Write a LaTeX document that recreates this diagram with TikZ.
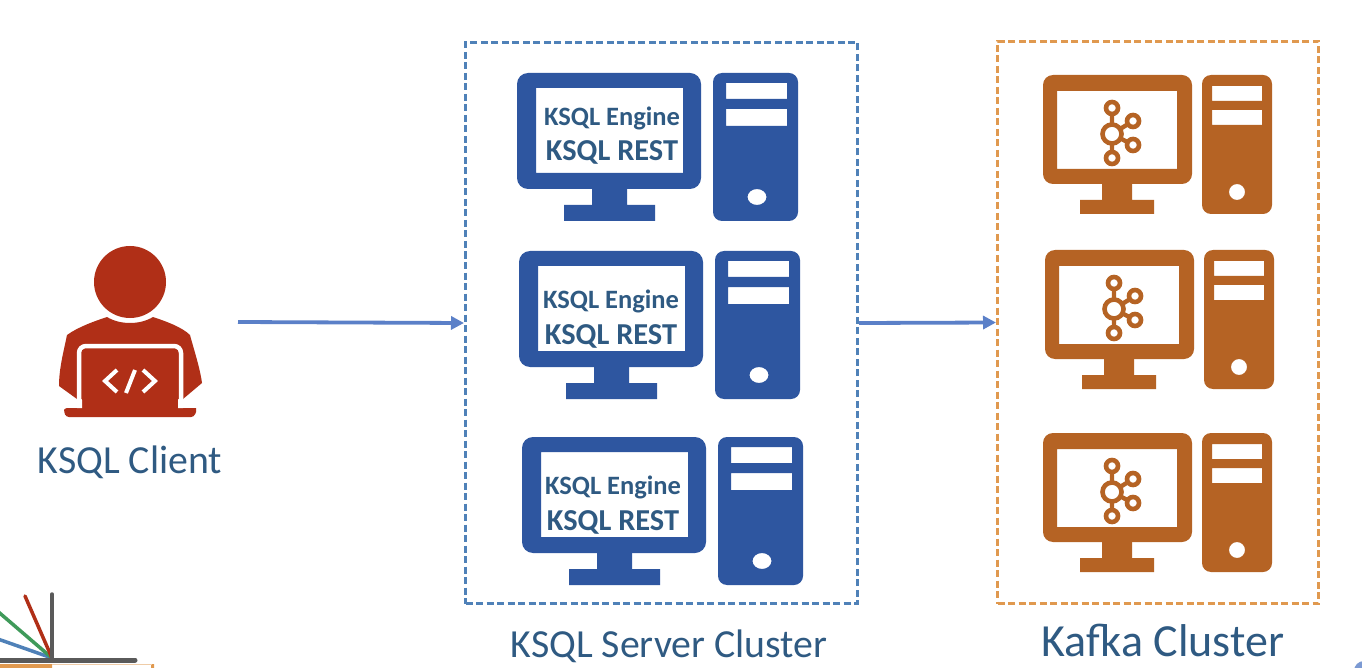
\documentclass[tikz,border=0pt]{standalone}
\usepackage{fontspec}
\setmainfont{Carlito}
\usetikzlibrary{arrows.meta}
\definecolor{pcblue}{HTML}{2E56A0}
\definecolor{pcorange}{HTML}{B56324}
\definecolor{userred}{HTML}{B02F17}
\definecolor{labelblue}{HTML}{2F5A82}
\definecolor{arrowblue}{HTML}{5B80C8}
\definecolor{boxblue}{HTML}{4F81B8}
\definecolor{boxorange}{HTML}{E0994F}
\definecolor{logogrey}{HTML}{5A5A5A}
\definecolor{logogreen}{HTML}{3F9A5A}
\tikzset{
  bluepc/.pic={
    \fill[pcblue,even odd rule]
      [rounded corners=11pt] (0,0) rectangle (184,116)
      [sharp corners] (19,15) rectangle (166,100);
    \fill[pcblue] (75,116) rectangle (110,132) (47,132) rectangle (138,148);
    \fill[pcblue,even odd rule]
      [rounded corners=9pt] (196,0) rectangle (281,148)
      [sharp corners] (209,10) rectangle (270,26) (209,36) rectangle (270,53)
      (240,124) ellipse [x radius=9.5,y radius=8];
  },
  kafkamark/.style={draw=pcorange,line width=4.6pt,fill=white},
  orangepc/.pic={
    \fill[pcorange,even odd rule]
      [rounded corners=10pt] (0,0) rectangle (149,109)
      [sharp corners] (14,16) rectangle (134,94);
    \fill[pcorange] (59,109) rectangle (89,125) (37,125) rectangle (111,139);
    \fill[pcorange,even odd rule]
      [rounded corners=9pt] (159,0) rectangle (229,139)
      [sharp corners] (169,11) rectangle (219,26) (169,35) rectangle (219,50)
      (194,117) circle [radius=8];
    \draw[pcorange,line width=4.4pt]
      (69,33) -- (69,83) (69,59) -- (90,46) (69,59) -- (90,70);
    \draw[kafkamark] (69,33) circle [radius=6];
    \draw[kafkamark] (90,46) circle [radius=6];
    \draw[kafkamark] (90,70) circle [radius=6];
    \draw[kafkamark] (69,83) circle [radius=6];
    \draw[kafkamark] (69,59) circle [radius=9.5];
  },
  enginetext/.style={text=labelblue,font=\bfseries\fontsize{26.5}{26.5}\selectfont,inner sep=0pt},
  resttext/.style={text=labelblue,font=\bfseries\fontsize{30.4}{30.4}\selectfont,inner sep=0pt},
  caption/.style={text=labelblue,inner sep=0pt},
  clusterbox/.style={draw,dash pattern=on 7pt off 3.5pt,line width=3pt,inner sep=0pt,fill=none},
  flow/.style={draw=arrowblue,line width=3.8pt,-{Triangle[length=13pt,width=13pt]}},
}
\begin{document}
\begin{tikzpicture}[x=1pt,y=-1pt]
\clip (0,0) rectangle (1362,668);
\fill[white] (0,0) rectangle (1362,668);

% logo fragment, bottom left
\draw[boxblue,line width=3.5pt] (-5,638) -- (52,658);
\draw[logogreen,line width=3.5pt] (-5,609) -- (52,658);
\draw[userred,line width=3.5pt,line cap=round] (25,596) -- (52,658);
\draw[logogrey,line width=3.5pt,line cap=round] (52,594) -- (52,660);
\draw[logogrey,line width=5pt,line cap=round] (-5,660) -- (135,660);
\fill[boxorange] (0,664) rectangle (52,668) (151,664) rectangle (154,668);
\draw[boxorange!50,line width=.8pt] (52,664) -- (152,664);
\fill[arrowblue!80] (1364,671) circle [radius=10];

% client
\fill[userred] (130,282) circle [radius=36];
\fill[userred] (107,317) .. controls (120,325) and (140,325) .. (153,317)
  .. controls (165,321) and (182,327) .. (190,335)
  .. controls (194,350) and (200,368) .. (202,383)
  -- (183,399) -- (77,399) -- (59,386)
  .. controls (59,368) and (64,350) .. (67,335)
  .. controls (78,327) and (95,321) .. (107,317) -- cycle;
\draw[white,line width=4.5pt,rounded corners=7pt] (79,402) -- (79,346) -- (181,346) -- (181,402);
\fill[userred] (64,408) -- (196,408) -- (196,412) [rounded corners=3pt] -- (194,417) -- (66,417) -- (64,412) -- cycle;
\fill[userred] (82,350) rectangle (178,409);
\fill[white] (77,400) rectangle (82,408) (178,400) rectangle (183,408);
\draw[white,line width=4pt] (117,370) -- (105,381) -- (117,392);
\draw[white,line width=4pt] (135,370) -- (126,393);
\draw[white,line width=4pt] (143,370) -- (155,381) -- (143,392);
\node[caption,font=\fontsize{39.8}{39.8}\selectfont] (client) at (130,462) {KSQL Client};
\coordinate (clientout) at (238,322);

% KSQL server cluster
\node[clusterbox,draw=boxblue,minimum width=392pt,minimum height=561pt] (serverbox) at (661.5,323) {};
\pic at (517,73) {bluepc};
\pic at (519,251) {bluepc};
\pic at (522,437) {bluepc};
\node[enginetext] (e1) at (612,118) {KSQL Engine};
\node[resttext] (r1) at (612,152) {KSQL REST};
\node[enginetext] (e2) at (611,301) {KSQL Engine};
\node[resttext] (r2) at (611,336) {KSQL REST};
\node[enginetext] (e3) at (613,487) {KSQL Engine};
\node[resttext] (r3) at (613,522) {KSQL REST};
\node[caption,font=\fontsize{39.8}{39.8}\selectfont] (servercap) at (669,646) {KSQL Server Cluster};

% Kafka cluster
\node[clusterbox,draw=boxorange,minimum width=321pt,minimum height=562pt] (kafkabox) at (1158,322.5) {};
\pic at (1043,75) {orangepc};
\pic at (1045,250) {orangepc};
\pic at (1043,433) {orangepc};
\node[caption,font=\fontsize{46}{46}\selectfont] (kafkacap) at (1163,640) {Kafka Cluster};

% connectors
\draw[flow] (clientout) -- (serverbox.west);
\draw[flow] (serverbox.east) -- (kafkabox.west);
\end{tikzpicture}
\end{document}
